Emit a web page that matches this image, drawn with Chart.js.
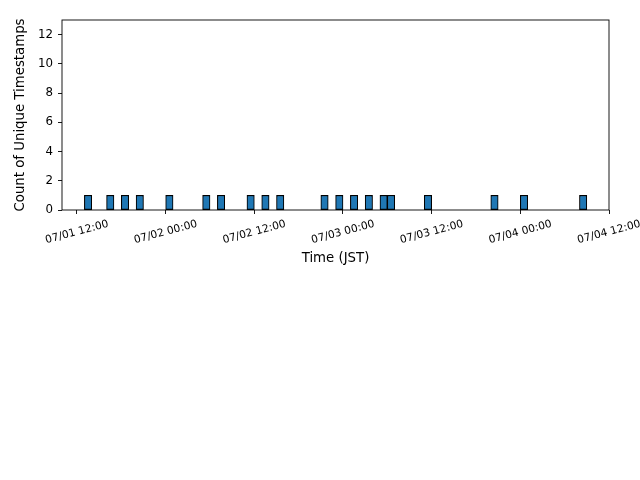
<!DOCTYPE html>
<html>
<head>
<meta charset="utf-8">
<script src="https://cdn.jsdelivr.net/npm/chart.js@4/dist/chart.umd.min.js"></script>
<style>
  html, body { margin: 0; padding: 0; background: #ffffff; }
  #wrap { width: 640px; height: 480px; }
</style>
</head>
<body>
<div id="wrap"><canvas id="c" width="640" height="480"></canvas></div>
<script>
// Hourly histogram bins (start hour, counted from 07/01 00:00 JST) that hold timestamps
const binStartHours = [13, 16, 18, 20, 24, 29, 31, 35, 37, 39, 45, 47, 49, 51, 53, 54, 59, 68, 72, 80];
const binCounts     = [1, 1, 1, 1, 1, 1, 1, 1, 1, 1, 1, 1, 1, 1, 1, 1, 1, 1, 1, 1];
// X tick positions (hours from 07/01 00:00) and their labels
const xTickHours  = [12, 24, 36, 48, 60, 72, 84];
const xTickLabels = ['07/01 12:00', '07/02 00:00', '07/02 12:00', '07/03 00:00', '07/03 12:00', '07/04 00:00', '07/04 12:00'];
const yTickValues = [0, 2, 4, 6, 8, 10, 12];
const xTitle = 'Time (JST)';
const yTitle = 'Count of Unique Timestamps';

const FONT = '"DejaVu Sans", sans-serif';

const points = binStartHours.map((h, i) => ({ x: h + 0.5, y: binCounts[i] }));

const decorPlugin = {
  id: 'decor',
  afterDraw(chart) {
    const ctx = chart.ctx;
    const a = chart.chartArea;
    const xs = chart.scales.x;
    ctx.save();
    // frame
    ctx.strokeStyle = '#000';
    ctx.lineWidth = 0.9;
    ctx.strokeRect(a.left, a.top, a.right - a.left, a.bottom - a.top);
    // x tick labels, rotated 15deg, bbox centered on the tick
    ctx.font = '10.7px ' + FONT;
    ctx.fillStyle = '#000';
    ctx.textAlign = 'center';
    ctx.textBaseline = 'middle';
    const rot = 15 * Math.PI / 180;
    const topY = a.bottom + 7.8;
    xTickHours.forEach((h, i) => {
      const px = xs.getPixelForValue(h);
      const w = ctx.measureText(xTickLabels[i]).width;
      const th = 12.4;
      const bh = w * Math.sin(rot) + th * Math.cos(rot);
      ctx.save();
      ctx.translate(px, topY + bh / 2);
      ctx.rotate(-rot);
      ctx.fillText(xTickLabels[i], 0, 0);
      ctx.restore();
    });
    // x title
    ctx.font = '13.3px ' + FONT;
    ctx.fillText(xTitle, (a.left + a.right) / 2, 258.5);
    // y title
    ctx.save();
    ctx.translate(21, (a.top + a.bottom) / 2);
    ctx.rotate(-Math.PI / 2);
    ctx.fillText(yTitle, 0, 0);
    ctx.restore();
    ctx.restore();
  }
};

new Chart(document.getElementById('c'), {
  type: 'bar',
  data: {
    datasets: [{
      data: points,
      backgroundColor: '#1f77b4',
      borderColor: '#000000',
      borderWidth: 1.1,
      borderSkipped: false,
      barPercentage: 1,
      categoryPercentage: 1
    }]
  },
  options: {
    responsive: false,
    animation: false,
    events: [],
    layout: { padding: { left: 0, top: 20, right: 31, bottom: 266 } },
    plugins: { legend: { display: false }, tooltip: { enabled: false }, title: { display: false } },
    scales: {
      x: {
        type: 'linear',
        offset: false,
        min: 9.97,
        max: 84,
        afterBuildTicks(scale) { scale.ticks = xTickHours.map(v => ({ value: v })); },
        afterFit(scale) { scale.height = 4; },
        ticks: { display: false },
        grid: { offset: false, drawOnChartArea: false, drawTicks: true, tickLength: 4, color: '#000', lineWidth: 0.9 },
        border: { display: false }
      },
      y: {
        min: 0,
        max: 13,
        afterBuildTicks(scale) { scale.ticks = yTickValues.map(v => ({ value: v })); },
        afterFit(scale) { scale.width = 62; },
        ticks: { color: '#000', font: { family: FONT, size: 11.8 }, padding: 5 },
        grid: { drawOnChartArea: false, drawTicks: true, tickLength: 4, color: '#000', lineWidth: 0.9 },
        border: { display: false }
      }
    }
  },
  plugins: [decorPlugin]
});
</script>
</body>
</html>
